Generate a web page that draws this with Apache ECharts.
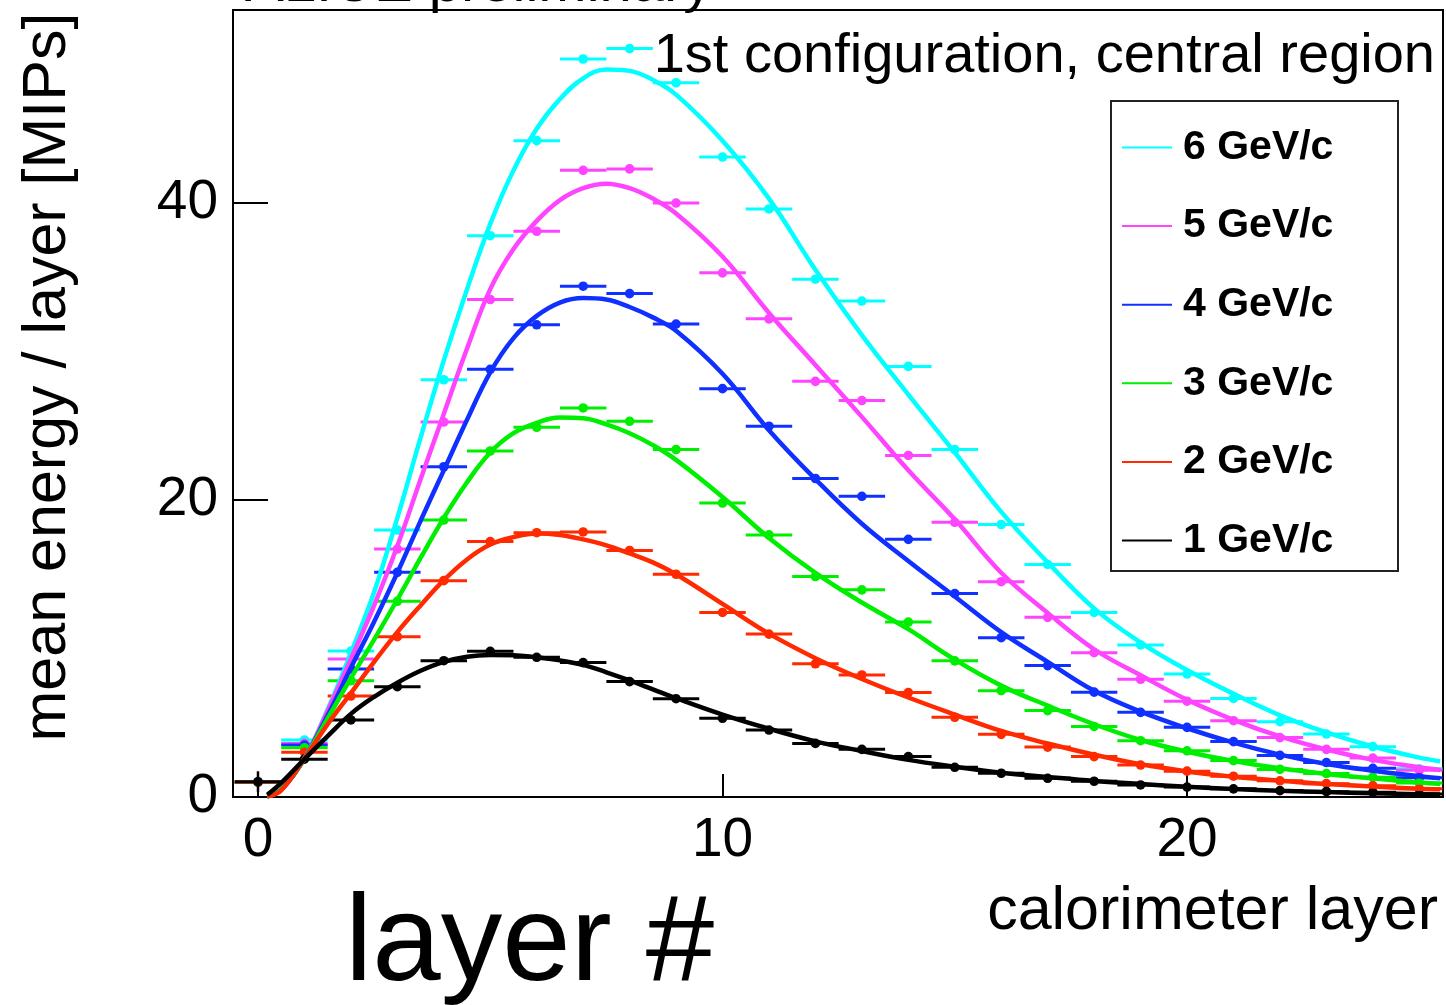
<!DOCTYPE html>
<html>
<head>
<meta charset="utf-8">
<script src="https://cdn.jsdelivr.net/npm/echarts@6.0.0/dist/echarts.min.js"></script>
<style>
  html, body { margin: 0; padding: 0; background: #fff; }
  #chart { width: 1446px; height: 1005px; }
</style>
</head>
<body>
<div id="chart"></div>
<script>
// layers of the calorimeter (measured points)
var layers = [0, 1, 2, 3, 4, 5, 6, 7, 8, 9, 10, 11, 12, 13, 14, 15, 16, 17, 18, 19, 20, 21, 22, 23, 24, 25];

// measured mean energy per layer [MIPs]
var data6 = [1.0, 3.84, 9.83, 17.98, 28.1, 37.8, 44.2, 49.7, 50.4, 48.1, 43.1, 39.6, 34.87, 33.4, 29.0, 23.4, 18.35, 15.66, 12.43, 10.24, 8.28, 6.64, 5.07, 4.24, 3.39, 1.9];
var data5 = [1.0, 3.61, 9.29, 16.7, 25.25, 33.5, 38.1, 42.2, 42.3, 40.0, 35.3, 32.2, 27.99, 26.7, 23.0, 18.5, 14.5, 12.1, 9.72, 7.93, 6.45, 5.14, 4.0, 3.21, 2.62, 1.8];
var data4 = [1.0, 3.5, 8.62, 15.13, 22.24, 28.8, 31.8, 34.4, 33.9, 31.85, 27.5, 24.97, 21.45, 20.25, 17.35, 13.7, 10.73, 8.85, 7.06, 5.7, 4.69, 3.73, 2.8, 2.32, 1.93, 1.3];
var data3 = [1.0, 3.32, 7.83, 13.18, 18.65, 23.3, 24.9, 26.2, 25.3, 23.4, 19.8, 17.65, 14.85, 13.95, 11.78, 9.17, 7.16, 5.82, 4.75, 3.79, 3.11, 2.45, 1.86, 1.58, 1.33, 0.95];
var data2 = [1.0, 3.01, 6.8, 10.8, 14.57, 17.2, 17.8, 17.85, 16.6, 15.0, 12.43, 10.97, 8.97, 8.22, 7.03, 5.37, 4.22, 3.36, 2.72, 2.15, 1.74, 1.4, 1.09, 0.9, 0.76, 0.55];
var data1 = [1.03, 2.55, 5.19, 7.43, 9.18, 9.81, 9.41, 9.05, 7.77, 6.62, 5.3, 4.51, 3.61, 3.21, 2.72, 2.0, 1.6, 1.26, 1.06, 0.81, 0.67, 0.55, 0.43, 0.36, 0.32, 0.2];
// vertical error of the 1 GeV/c points (only the first one is visible)
var err1 = [0.7, 0, 0, 0, 0, 0, 0, 0, 0, 0, 0, 0, 0, 0, 0, 0, 0, 0, 0, 0, 0, 0, 0, 0, 0, 0];

// fitted curves
var curveX = [0.2, 0.5, 1, 1.5, 2, 2.5, 3, 3.5, 4, 4.5, 5, 5.5, 6, 6.5, 7, 7.5, 8, 8.5, 9, 10, 11, 12, 13, 14, 15, 16, 17, 18, 19, 20, 21, 22, 23, 24, 25, 25.45];
var fit6 = [0.05, 0.5, 2.6, 5.9, 9.7, 13.8, 18.8, 24.2, 29.4, 34.2, 38.6, 42.2, 45.0, 47.0, 48.4, 49.0, 48.9, 48.3, 47.3, 44.2, 40.3, 35.5, 31.1, 27.1, 23.2, 19.2, 15.8, 12.7, 10.4, 8.55, 6.95, 5.5, 4.35, 3.4, 2.65, 2.4];
var fit5 = [0.05, 0.5, 2.6, 5.8, 9.3, 12.9, 16.9, 21.4, 25.8, 30.2, 34.2, 36.9, 38.8, 40.2, 41.0, 41.3, 41.0, 40.3, 39.3, 36.4, 32.6, 29.1, 25.6, 22.0, 18.7, 15.1, 12.4, 9.95, 8.2, 6.55, 5.2, 4.08, 3.2, 2.5, 2.0, 1.82];
var fit4 = [0.05, 0.5, 2.6, 5.5, 8.7, 11.8, 15.1, 18.6, 22.0, 25.4, 28.6, 30.9, 32.4, 33.3, 33.6, 33.5, 33.0, 32.3, 31.4, 28.5, 24.7, 21.4, 18.4, 15.9, 13.5, 11.1, 9.1, 7.15, 5.75, 4.63, 3.66, 2.85, 2.22, 1.77, 1.4, 1.26];
var fit3 = [0.05, 0.5, 2.6, 5.3, 8.0, 10.6, 13.3, 16.1, 18.8, 21.2, 23.2, 24.5, 25.2, 25.55, 25.5, 25.1, 24.5, 23.7, 22.7, 20.2, 17.45, 15.1, 13.1, 11.3, 9.25, 7.5, 6.15, 4.9, 3.84, 3.05, 2.42, 1.93, 1.55, 1.26, 0.98, 0.88];
var fit2 = [0.05, 0.45, 2.6, 4.9, 7.0, 9.1, 11.1, 12.9, 14.6, 16.0, 17.0, 17.5, 17.75, 17.65, 17.35, 16.95, 16.4, 15.8, 15.0, 13.0, 11.0, 9.35, 7.95, 6.7, 5.55, 4.45, 3.6, 2.85, 2.2, 1.72, 1.37, 1.1, 0.88, 0.7, 0.56, 0.52];
var fit1 = [0.15, 0.95, 2.55, 4.1, 5.6, 6.75, 7.7, 8.5, 9.1, 9.45, 9.56, 9.55, 9.4, 9.2, 8.9, 8.4, 7.85, 7.25, 6.65, 5.55, 4.6, 3.75, 3.1, 2.5, 2.04, 1.64, 1.35, 1.08, 0.88, 0.69, 0.54, 0.42, 0.33, 0.25, 0.19, 0.17];

var names = ["6 GeV/c", "5 GeV/c", "4 GeV/c", "3 GeV/c", "2 GeV/c", "1 GeV/c"];
var colors = ["#00ffff", "#ff44ff", "#1030ff", "#00ee00", "#ff2a00", "#000000"];
var xTicks = [0, 10, 20];
var yTicks = [0, 20, 40];

var FONT = "Liberation Sans, Arial, Helvetica, sans-serif";

var myChart = echarts.init(document.getElementById("chart"));

function pairs(xs, ys) {
  return xs.map(function(x, i) {
    return [x, ys[i]];
  });
}

function points(ys, errs) {
  return layers.map(function(l, i) {
    return [l, ys[i], errs ? errs[i] : 0];
  });
}

// marker with horizontal bar of one layer width (and vertical error if any)
function renderPoint(params, api) {
  var x = api.value(0),
    y = api.value(1),
    e = api.value(2);
  var color = api.visual("color");
  var p = api.coord([x, y]);
  var l = api.coord([x - 0.5, y]);
  var r = api.coord([x + 0.5, y]);
  var children = [
    {
      type: "line",
      shape: { x1: l[0], y1: l[1], x2: r[0], y2: r[1] },
      style: { stroke: color, lineWidth: 3 }
    },
    {
      type: "circle",
      shape: { cx: p[0], cy: p[1], r: 4.8 },
      style: { fill: color }
    }
  ];
  if (e > 0) {
    var lo = api.coord([x, Math.max(0, y - e)]);
    var hi = api.coord([x, y + e]);
    children.push({
      type: "line",
      shape: { x1: lo[0], y1: lo[1], x2: hi[0], y2: hi[1] },
      style: { stroke: color, lineWidth: 2.5 }
    });
  }
  return { type: "group", children: children };
}

var fits = [fit6, fit5, fit4, fit3, fit2, fit1];
var datas = [data6, data5, data4, data3, data2, data1];
var errs = [null, null, null, null, null, err1];

var series = [];
names.forEach(function(name, i) {
  series.push({
    name: name,
    type: "custom",
    renderItem: renderPoint,
    itemStyle: { color: colors[i] },
    encode: { x: 0, y: 1 },
    clip: true,
    z: 2,
    data: points(datas[i], errs[i])
  });
});
names.forEach(function(name, i) {
  series.push({
    name: name,
    type: "line",
    smooth: 0.4,
    showSymbol: false,
    symbol: "none",
    clip: true,
    z: 3,
    lineStyle: { color: colors[i], width: 4.5 },
    itemStyle: { color: colors[i] },
    data: pairs(curveX, fits[i])
  });
});

var option = {
  backgroundColor: "#fff",
  animation: false,
  grid: {
    left: 233,
    right: 3,
    top: 10,
    bottom: 208,
    show: true,
    borderColor: "#000",
    borderWidth: 2
  },
  legend: {
    orient: "vertical",
    left: 1117,
    top: 122,
    padding: 5,
    icon: "rect",
    itemWidth: 50,
    itemHeight: 2,
    itemGap: 37.6,
    selectedMode: false,
    textStyle: {
      fontFamily: FONT,
      fontSize: 41,
      fontWeight: "bold",
      color: "#000",
      padding: [0, 0, 0, 6]
    },
    data: names
  },
  xAxis: {
    type: "value",
    min: -0.538,
    max: 25.51,
    axisLine: { show: true, onZero: false, lineStyle: { color: "#000", width: 2 } },
    axisTick: {
      show: true,
      inside: true,
      length: 23,
      customValues: xTicks,
      lineStyle: { color: "#000", width: 2 }
    },
    axisLabel: {
      customValues: xTicks,
      margin: 16,
      fontFamily: FONT,
      fontSize: 55,
      color: "#000"
    },
    splitLine: { show: false }
  },
  yAxis: {
    type: "value",
    min: 0,
    max: 53,
    axisLine: { show: true, onZero: false, lineStyle: { color: "#000", width: 2 } },
    axisTick: {
      show: true,
      inside: true,
      length: 35,
      customValues: yTicks,
      lineStyle: { color: "#000", width: 2 }
    },
    axisLabel: {
      customValues: yTicks,
      margin: 15,
      fontFamily: FONT,
      fontSize: 55,
      color: "#000"
    },
    splitLine: { show: false }
  },
  graphic: [
    {
      type: "rect",
      z: 3,
      shape: { x: 1111, y: 101, width: 287, height: 470 },
      style: { fill: "#fff", stroke: "#222", lineWidth: 2 }
    },
    {
      type: "text",
      x: 245,
      y: -15,
      style: {
        text: "ALICE preliminary",
        font: "58px " + FONT,
        fill: "#000",
        align: "left",
        verticalAlign: "middle"
      }
    },
    {
      type: "text",
      x: 1435,
      y: 57,
      z: 5,
      style: {
        text: "1st configuration, central region",
        font: "56px " + FONT,
        fill: "#000",
        align: "right",
        verticalAlign: "middle"
      }
    },
    {
      type: "text",
      x: 48,
      y: 377,
      rotation: Math.PI / 2,
      style: {
        text: "mean energy / layer [MIPs]",
        font: "61px " + FONT,
        fill: "#000",
        align: "center",
        verticalAlign: "middle"
      }
    },
    {
      type: "text",
      x: 1438,
      y: 912,
      style: {
        text: "calorimeter layer",
        font: "61px " + FONT,
        fill: "#000",
        align: "right",
        verticalAlign: "middle"
      }
    },
    {
      type: "text",
      x: 345,
      y: 946,
      style: {
        text: "layer #",
        font: "123px " + FONT,
        fill: "#000",
        align: "left",
        verticalAlign: "middle"
      }
    }
  ],
  series: series
};

myChart.setOption(option);
window.addEventListener("resize", function() {
  myChart.resize();
});
</script>
</body>
</html>
